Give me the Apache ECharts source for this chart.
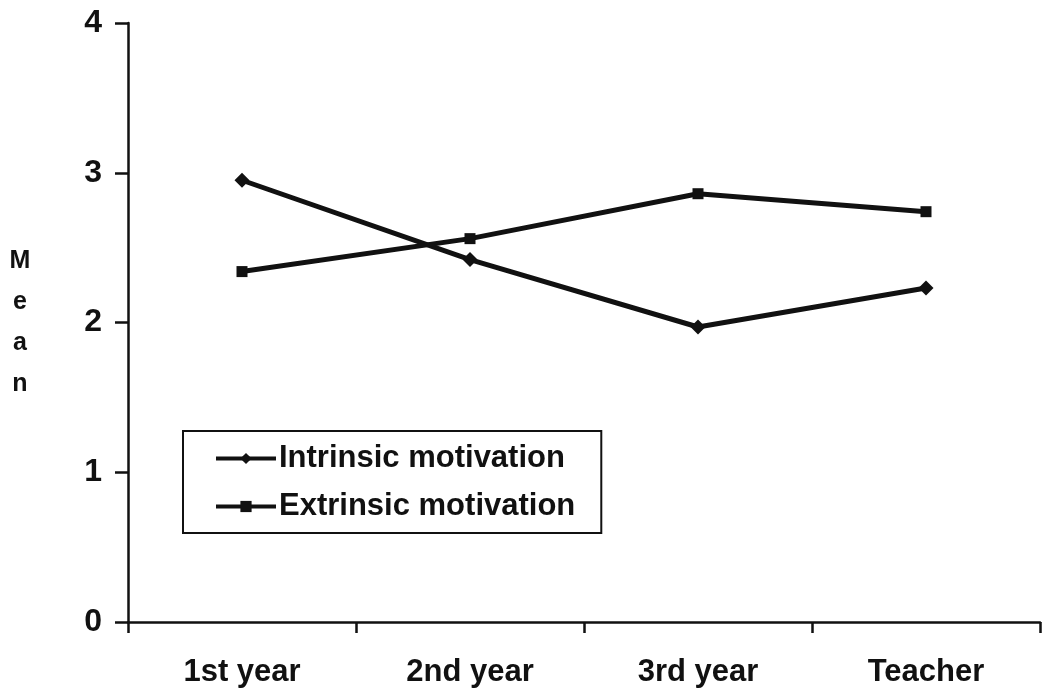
<!DOCTYPE html>
<html>
<head>
<meta charset="utf-8">
<script src="https://cdn.jsdelivr.net/npm/echarts@6/dist/echarts.min.js"></script>
<style>
html,body{margin:0;padding:0;background:#fff;}
#chart{width:1046px;height:691px;}
</style>
</head>
<body>
<div id="chart"></div>
<script>
// Mean motivation scores by group
const categories = ['1st year', '2nd year', '3rd year', 'Teacher'];
const intrinsic = [2.95, 2.42, 1.97, 2.23];
const extrinsic = [2.34, 2.56, 2.86, 2.74];
const yTicks = [0, 1, 2, 3, 4];

const font = 'Arial, "Liberation Sans", sans-serif';
const ink = '#111';
const chart = echarts.init(document.getElementById('chart'));

chart.setOption({
  backgroundColor: '#fff',
  animation: false,
  grid: { left: 128, right: 6, top: 23, bottom: 69, containLabel: false, outerBoundsMode: 'none' },
  legend: {
    orient: 'vertical',
    left: 183,
    top: 431,
    padding: [12, 26, 11, 31],
    itemGap: 17,
    itemWidth: 60,
    itemHeight: 14,
    borderColor: ink,
    borderWidth: 2,
    borderRadius: 0,
    lineStyle: { width: 4, color: ink },
    textStyle: { fontFamily: font, fontWeight: 'bold', fontSize: 31, color: ink, padding: [0, 0, 0, -2] },
    data: ['Intrinsic motivation', 'Extrinsic motivation']
  },
  xAxis: {
    type: 'category',
    data: categories,
    boundaryGap: true,
    axisLine: { lineStyle: { color: ink, width: 2.5 } },
    axisTick: { show: true, length: 11, lineStyle: { color: ink, width: 2.5 } },
    axisLabel: { fontFamily: font, fontWeight: 'bold', fontSize: 31, color: ink, margin: 35 },
    splitLine: { show: false }
  },
  yAxis: {
    type: 'value',
    min: yTicks[0],
    max: yTicks[yTicks.length - 1],
    interval: 1,
    name: 'M\ne\na\nn',
    nameLocation: 'middle',
    nameRotate: 0,
    nameGap: 108,
    nameTextStyle: { fontFamily: font, fontWeight: 'bold', fontSize: 25, color: ink, lineHeight: 41, align: 'center', padding: [12, 0, 0, 0] },
    axisLine: { show: true, lineStyle: { color: ink, width: 2.5 } },
    axisTick: { show: true, length: 13, lineStyle: { color: ink, width: 2.5 } },
    axisLabel: { fontFamily: font, fontWeight: 'bold', fontSize: 32, color: ink, margin: 26 },
    splitLine: { show: false }
  },
  series: [
    {
      name: 'Intrinsic motivation',
      type: 'line',
      data: intrinsic,
      symbol: 'diamond',
      symbolSize: 15,
      itemStyle: { color: ink },
      lineStyle: { color: ink, width: 5 }
    },
    {
      name: 'Extrinsic motivation',
      type: 'line',
      data: extrinsic,
      symbol: 'rect',
      symbolSize: 11,
      itemStyle: { color: ink },
      lineStyle: { color: ink, width: 5 }
    }
  ]
});
</script>
</body>
</html>
